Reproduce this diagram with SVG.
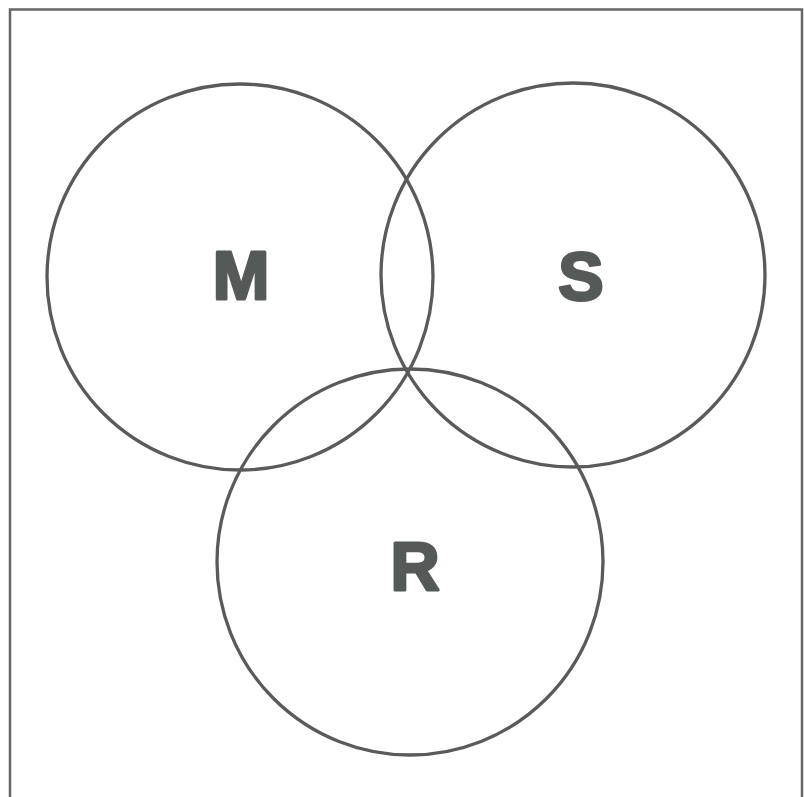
<svg xmlns="http://www.w3.org/2000/svg" width="804" height="797" viewBox="0 0 804 797">
<style>
.c{fill:none;stroke:#5a5a5a;stroke-width:3.3}
.t{font-family:"Liberation Sans",Arial,sans-serif;font-weight:bold;font-size:68px;fill:#555a58;stroke:#555a58;stroke-width:3;stroke-linejoin:round;text-anchor:middle}
</style>
<rect width="804" height="797" fill="#ffffff"/>
<path d="M10,797 V9.5 H802 V797" fill="none" stroke="#666" stroke-width="2.5"/>
<g id="connectors"></g>
<g id="node-M"><circle class="c" cx="240" cy="277" r="193"/><text class="t" x="241" y="299">M</text></g>
<g id="node-S"><circle class="c" cx="573" cy="275" r="192"/><text class="t" x="581" y="300">S</text></g>
<g id="node-R"><circle class="c" cx="410" cy="562" r="193"/><text class="t" x="415" y="590">R</text></g>
</svg>
